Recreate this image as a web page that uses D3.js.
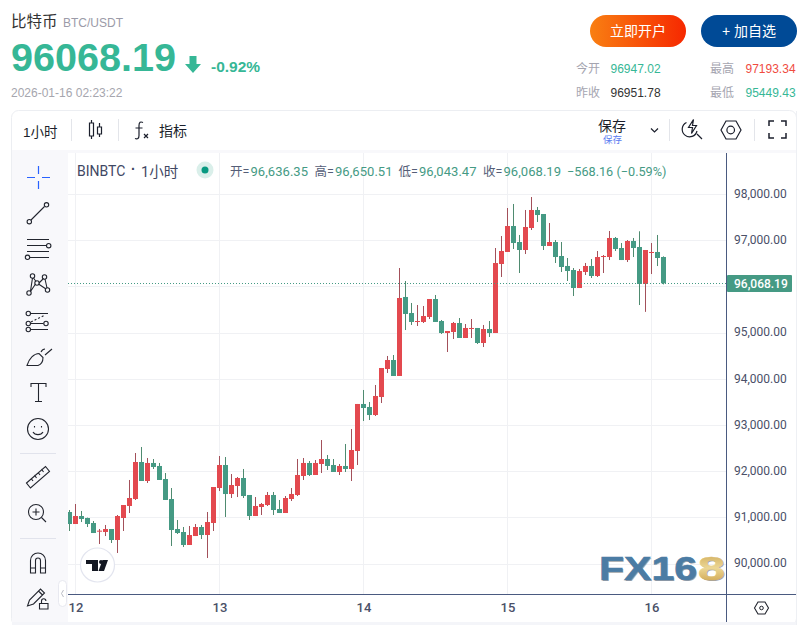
<!DOCTYPE html>
<html><head><meta charset="utf-8">
<script src="https://cdn.jsdelivr.net/npm/d3@7/dist/d3.min.js"></script>
<style>
html,body{margin:0;padding:0;background:#fff;overflow:hidden}
svg{display:block}
text{font-family:"Liberation Sans","Noto Sans CJK SC",sans-serif}
.tv text,text.tv{font-family:Roboto,"Noto Sans CJK SC",sans-serif}
</style></head><body>
<script>
const opens=[91117,90857,91030,90987,90879,90691,90684,90749,90511,90987,91247,91398,92199,91788,92178,92113,91831,91398,90749,90684,90403,90597,90792,90619,90879,91636,92134,91506,91680,91853,91485,91030,91225,91268,91485,91182,91095,91398,91485,91896,92178,91918,92156,92264,92134,91983,92113,92048,92437,93455,93390,93216,93606,94212,94407,94061,95771,95424,95230,95230,95338,95727,95251,94991,95013,95208,94883,95078,95100,94775,95078,94991,96485,96745,97307,96961,96788,97264,97654,97567,96875,96961,96658,96442,96355,95965,96312,96442,96225,96636,96636,97048,96831,96571,96983,96853,96052,96723,96745,96636.35];
const highs=[91160,91290,91139,90995,90922,90749,90836,90749,91052,91268,91810,92394,92524,92286,92264,92178,91961,91636,90944,90792,90814,90857,90836,91117,91658,92329,92307,91939,91874,92048,91485,91441,91312,91550,91550,91377,91463,91636,92264,92286,92221,92242,92675,92351,92264,92156,92589,92913,93455,93758,93498,93866,94234,94494,94515,96398,96117,95641,95597,95576,95727,95814,95273,95035,95230,95316,95186,95294,95100,95165,95251,96831,97091,97697,97784,97113,97654,97935,97719,97567,97372,97004,96961,96615,96398,96377,96507,96593,96766,96680,97199,97069,96939,97004,97048,97193,96788,96939,97113,96650.51];
const lows=[90706,90857,90900,90792,90662,90424,90597,90446,90230,90706,91095,91377,91788,91745,92048,91810,91377,90381,90641,90359,90403,90597,90532,90121,90706,91571,91009,91420,91441,91420,90944,91030,91052,91247,91052,91095,91095,91355,91463,91810,91896,91918,91961,92026,91983,91918,91983,91788,92134,93087,93108,93195,93476,94126,94061,94061,95056,95165,95143,95208,95294,95230,94970,94580,94861,94883,94883,94883,94753,94688,94905,94991,96204,96745,96810,96290,96701,97221,97394,96788,96875,96507,96312,96117,95792,95965,96247,96182,96204,96290,96571,96766,96571,96528,96636,95597,95449,96268,96441,96043.47];
const closes=[90857,91030,90965,90857,90662,90713,90749,90511,91030,91268,91420,92199,91788,92178,92091,91810,91377,90727,90662,90403,90619,90792,90619,90900,91658,92134,91506,91701,91853,91463,91030,91247,91290,91485,91160,91095,91420,91507,91918,92178,91918,92178,92264,92113,91983,92113,92048,92459,93455,93368,93216,93628,94234,94407,94061,95749,95403,95230,95251,95359,95727,95230,94991,95035,95208,94883,95100,95100,94775,95078,94991,96506,96766,97307,96939,96788,97286,97654,97545,96875,96961,96636,96420,96333,95965,96333,96442,96225,96636,96658,97048,96810,96571,96983,96831,96052,96788,96745,96615,96068.19];
const priceTicks=[90000,91000,92000,93000,94000,95000,96000,97000,98000];
const dayTickIndex=[1,25,49,73,97];
const dayLabels=["12","13","14","15","16"];
const lastPrice=96068.19;
const legendPairs=[["开","96,636.35"],["高","96,650.51"],["低","96,043.47"],["收","96,068.19"]];
const legendChange="−568.16 (−0.59%)";

const W=808,H=625;
const UP="#e3494f",DOWN="#459a84",UPW="#a3505a",DOWNW="#4f8b70",AXIS="#4a5a80",GRID="#f0f1f4",TXT="#4a5068";
const x=d3.scaleLinear().domain([0,99]).range([69,663]);
const y=d3.scaleLinear().domain([90000,98000]).range([563.6,194]);
const svg=d3.select("body").append("svg").attr("width",W).attr("height",H).attr("viewBox",`0 0 ${W} ${H}`);
const defs=svg.append("defs");
const g1=defs.append("linearGradient").attr("id","btn");
g1.append("stop").attr("offset","0").attr("stop-color","#f97f12");
g1.append("stop").attr("offset","1").attr("stop-color","#f62800");
const g2=defs.append("linearGradient").attr("id","gold").attr("x1",0).attr("x2",0).attr("y1",0).attr("y2",1);
g2.append("stop").attr("offset","0").attr("stop-color","#c9a14c");
g2.append("stop").attr("offset",".5").attr("stop-color","#ecd795");
g2.append("stop").attr("offset","1").attr("stop-color","#c7983f");
defs.append("clipPath").attr("id","plot").append("rect").attr("x",68).attr("y",153).attr("width",658).attr("height",441);

function T(s,px,py,size,color,opt={}){
  const t=svg.append("text").attr("x",px).attr("y",py).attr("font-size",size).attr("fill",color).text(s);
  if(opt.weight)t.attr("font-weight",opt.weight);
  if(opt.cls)t.attr("class",opt.cls);
  if(opt.anchor)t.attr("text-anchor",opt.anchor);
  if(opt.ls)t.attr("letter-spacing",opt.ls);
  return t;
}
/* header */
T("比特币",11,27,15.5,"#333");
T("BTC/USDT",63,26.5,12,"#9b9ba8");
T("96068.19",11,71,39.6,"#36b796",{weight:700});
svg.append("path").attr("d","M189.5 56h7v8h4.5l-8 9-8-9h4.5z").attr("fill","#36b796");
T("-0.92%",211,72,15.5,"#36b796",{weight:700});
T("2026-01-16 02:23:22",11,97,12,"#a6a6ae");
/* buttons */
svg.append("rect").attr("x",590).attr("y",15).attr("width",96).attr("height",32).attr("rx",16).attr("fill","url(#btn)");
T("立即开户",638,36,14,"#fff",{anchor:"middle"});
svg.append("rect").attr("x",701).attr("y",15).attr("width",96).attr("height",32).attr("rx",16).attr("fill","#004a96");
T("+ 加自选",749,36,14,"#fff",{anchor:"middle"});
/* stats */
[["今开","96947.02","#36b796",576,610.5,73],["最高","97193.34","#f04b3f",710,745.5,73],["昨收","96951.78","#333",576,610.5,97],["最低","95449.43","#36b796",710,745.5,97]].forEach(r=>{
  T(r[0],r[3],r[5],12,"#a5a5b0");T(r[1],r[4],r[5],12,r[2]);
});
/* panel */
svg.append("rect").attr("x",11.5).attr("y",110.5).attr("width",785).attr("height",515).attr("rx",7).attr("fill","#fff").attr("stroke","#eceef2");
svg.append("rect").attr("x",12).attr("y",150).attr("width",784).attr("height",3).attr("fill","#f8f8fb");
svg.append("rect").attr("x",12).attr("y",153).attr("width",56).attr("height",469).attr("fill","#f8f8fb");
svg.append("rect").attr("x",12).attr("y",622).attr("width",784).attr("height",3).attr("fill","#f4f5f9");
/* top toolbar */
T("1小时",23,137,13.5,"#1b1f2c");
[[71.5],[118.5],[669.5],[754.5]].forEach(a=>svg.append("line").attr("x1",a[0]).attr("x2",a[0]).attr("y1",119).attr("y2",141).attr("stroke","#e3e5ea"));
const ic=svg.append("g").attr("fill","none").attr("stroke","#1b1f2c").attr("stroke-width",1.2);
ic.append("path").attr("d","M91.5 120v3M91.5 136v3M89.5 123h4v13h-4zM99.5 123v4M99.5 134v3M97.5 127h4v7h-4z");
ic.append("path").attr("d","M143 122.500c-2.500-1.200-4-.2-4 3v10c0 3-1.500 4-4 3M135.500 128h7M144 134l4 4M148 134l-4 4");
T("指标",159,136,14,"#1b1f2c");
T("保存",598,131,14,"#1b1f2c");
T("保存",603,143,9.5,"#5b7cf0");
ic.append("path").attr("d","M651 128.500l3.500 3.500 3.500-3.500");
ic.append("path").attr("d","M686.500 122.500a7.500 7.500 0 1 0 10.500 8.500M693.500 119.500l-5 8h4l-1 6 5-8h-4zM697 134l5 5");
ic.append("path").attr("d","M721 130l5-9h10l5 9-5 9h-10z");
ic.append("circle").attr("cx",730.7).attr("cy",130).attr("r",3.8);
ic.append("path").attr("d","M769 126v-5h5M781 121h5v5M786 133v5h-5M774 138h-5v-5").attr("stroke-width",1.5);

/* chart: grid via scales */
const grid=svg.append("g");
grid.selectAll("line.h").data(priceTicks).join("line").attr("x1",68).attr("x2",726).attr("y1",d=>Math.round(y(d))+.5).attr("y2",d=>Math.round(y(d))+.5).attr("stroke",GRID);
grid.selectAll("line.v").data(dayTickIndex).join("line").attr("x1",d=>x(d)+.5).attr("x2",d=>x(d)+.5).attr("y1",153).attr("y2",594).attr("stroke",GRID);
/* candles */
const plot=svg.append("g").attr("clip-path","url(#plot)");
const idx=d3.range(opens.length);
plot.selectAll("rect.w").data(idx).join("rect").attr("x",i=>x(i)).attr("width",1)
  .attr("y",i=>y(highs[i])).attr("height",i=>y(lows[i])-y(highs[i]))
  .attr("fill",i=>closes[i]>=opens[i]?UPW:DOWNW);
plot.selectAll("rect.b").data(idx).join("rect").attr("x",i=>x(i)-2).attr("width",5)
  .attr("y",i=>y(Math.max(opens[i],closes[i]))).attr("height",i=>Math.max(1,Math.abs(y(opens[i])-y(closes[i]))))
  .attr("fill",i=>closes[i]>=opens[i]?UP:DOWN);
/* last-price line */
svg.append("line").attr("x1",68).attr("x2",726).attr("y1",Math.floor(y(lastPrice))+.5).attr("y2",Math.floor(y(lastPrice))+.5)
  .attr("stroke",DOWN).attr("stroke-dasharray","1 2");
/* axes: the tick label under the price tag is not shown */
const yAxis=d3.axisRight(y).tickValues(priceTicks.filter(d=>Math.abs(y(d)-y(lastPrice))>12)).tickFormat(d3.format(",.2f")).tickSize(0).tickPadding(7);
const ya=svg.append("g").attr("class","tv").attr("transform","translate(727,-0.5)").call(yAxis);
ya.select(".domain").remove();
ya.selectAll("text").attr("font-size",12).attr("fill",TXT);
const xAxis=d3.axisBottom(x).tickValues(dayTickIndex).tickFormat((d,i)=>dayLabels[i]).tickSize(0).tickPadding(9);
const xa=svg.append("g").attr("class","tv").attr("transform","translate(0.5,594)").call(xAxis);
xa.select(".domain").remove();
xa.selectAll("text").attr("font-size",13).attr("font-weight",500).attr("fill",TXT);
svg.append("rect").attr("x",68).attr("y",594).attr("width",729).attr("height",1).attr("fill",AXIS);
svg.append("rect").attr("x",726).attr("y",153).attr("width",1).attr("height",469).attr("fill",AXIS);
svg.append("rect").attr("x",796).attr("y",111).attr("width",1).attr("height",514).attr("fill","#eef0f4");
/* price label */
svg.append("rect").attr("x",727).attr("y",275).attr("width",65).attr("height",17).attr("rx",1).attr("fill",DOWN);
T(d3.format(",.2f")(lastPrice),734,288,12,"#fff",{cls:"tv",weight:500});
/* legend */
T("BINBTC",77,176,14,"#3f4763",{cls:"tv"});
T("·",131,174,14,"#3f4763",{weight:700});
T("1小时",141,177,14.500,"#3f4763",{cls:"tv"});
svg.append("circle").attr("cx",205).attr("cy",170).attr("r",8.5).attr("fill","#daefea");
svg.append("circle").attr("cx",205).attr("cy",170).attr("r",3.5).attr("fill","#089981");
const starts=[230,314.5,398.5,483];
legendPairs.forEach((p,i)=>{
  T(p[0]+"=",starts[i],176,12.5,"#555e78",{cls:"tv"});
  T(p[1],starts[i]+20.5,176,13,DOWN,{cls:"tv",ls:.05});
});
T(legendChange,567,176,12.7,DOWN,{cls:"tv"});
/* left toolbar icons */
const L=svg.append("g").attr("fill","none").attr("stroke","#22252e").attr("stroke-width",1.1);
L.append("path").attr("d","M27 177.500h8M42 177.500h8M38.500 166v8M38.500 181v8").attr("stroke","#2962ff").attr("stroke-width",1.2);
L.append("path").attr("d","M31 220l13.500-13.500");
[[29.3,221.7],[46.5,204.8],[48.7,245.7],[27.5,257.3],[32.5,276],[37,283],[44.5,277],[47.5,290],[29,293],[28.3,313.5],[28.3,323.5],[28.3,329.5],[46,323.5]].forEach(c=>L.append("circle").attr("cx",c[0]).attr("cy",c[1]).attr("r",2.2));
L.append("path").attr("d","M27 239.500h22M27 245.500h19M27 251.500h22M30 257.500h19");
L.append("path").attr("d","M30.500 291l2-13M33.500 278l2.500 3.500M39 283l4.500-4.500M45 279l2 9M38.500 284l7.500 5M35.500 284l-5 7.500");
L.append("path").attr("d","M31 313.500h17M31 323.500h12.500M31 329.500h17");
L.append("path").attr("d","M31 322l14-7").attr("stroke-dasharray","2 2");
L.append("path").attr("d","M27 365.500h11c3-1 5-4 5-8l-4-4c-5 0-10 5-12 12zM41 352c1-2 3-3 4-3M45 355l7-6");
L.append("path").attr("d","M31 387v-3.500h15v3.500M38.500 383.500v18M35 401.500h7");
L.append("circle").attr("cx",38).attr("cy",429).attr("r",10.5);
L.append("path").attr("d","M33 432c2 3.500 8 3.500 10 0M34.500 426v1.500M41.500 426v1.500");
L.append("path").attr("d","M26.500 483l19-16.500 4 5-19 16.500zM33 481l-1.500-2M36.500 478l-2-3M40 475l-1.500-2M43.500 472l-2-3");
L.append("circle").attr("cx",36).attr("cy",512).attr("r",7.5);
L.append("path").attr("d","M36 508.500v7M32.500 512h7M41.500 517.500l4.500 4.500");
L.append("path").attr("d","M30.500 573v-12.500a7.500 7.500 0 0 1 15 0v12.500h-5v-12.500a2.500 2.500 0 0 0-5 0v12.500zM30.500 568h5M40.500 568h5");
L.append("path").attr("d","M27.500 606l2-6 11-11 4 4-11 11zM38.500 591l4 4");
L.append("path").attr("d","M39.500 609v-5.500h8.500v5.500zM41.500 603.500v-2.500a2.200 2.200 0 0 1 4.400 0");
[[20,56,453.5],[20,56,538.5]].forEach(a=>svg.append("line").attr("x1",a[0]).attr("x2",a[1]).attr("y1",a[2]).attr("y2",a[2]).attr("stroke","#e1e3ec"));
svg.append("rect").attr("x",58.5).attr("y",580.5).attr("width",8).attr("height",26).attr("rx",4).attr("fill","#fff").attr("stroke","#e8e9f0");
svg.append("path").attr("d","M63.500 590l-2 3.500 2 3.500").attr("fill","none").attr("stroke","#b8bac4");
/* bottom-right gear */
svg.append("path").attr("d","M754.500 608l3.500-6h7l3.500 6-3.500 6h-7z").attr("fill","none").attr("stroke","#22252e").attr("stroke-width",1.1);
svg.append("circle").attr("cx",761.500).attr("cy",608).attr("r",1.800).attr("fill","none").attr("stroke","#22252e");
/* TV logo */
svg.append("circle").attr("cx",97.500).attr("cy",565).attr("r",17).attr("fill","#fff").attr("stroke","#e3e5ef").attr("stroke-width",1.200);
svg.append("path").attr("d","M86 560h12v11h-6v-7h-6z").attr("fill","#131722");
svg.append("circle").attr("cx",101).attr("cy",562).attr("r",2).attr("fill","#131722");
svg.append("path").attr("d","M98.500 571h5.500l4-11h-5.500z").attr("fill","#131722");
/* FX168 watermark */
const wm=svg.append("g").attr("font-family","DejaVu Sans").attr("font-weight",700).attr("font-size",34);
wm.append("text").attr("x",600).attr("y",581).attr("textLength",98).attr("lengthAdjust","spacingAndGlyphs").attr("fill","#777c84").attr("opacity",.7).text("FX16");
wm.append("text").attr("x",599).attr("y",580).attr("textLength",98).attr("lengthAdjust","spacingAndGlyphs").attr("fill","#4b7ca4").attr("stroke","#4b7ca4").attr("stroke-width",.6).text("FX16");
wm.append("text").attr("x",699).attr("y",581).attr("textLength",27).attr("lengthAdjust","spacingAndGlyphs").attr("fill","#777c84").attr("opacity",.7).text("8");
wm.append("text").attr("x",698).attr("y",580).attr("textLength",27).attr("lengthAdjust","spacingAndGlyphs").attr("fill","url(#gold)").attr("stroke","url(#gold)").attr("stroke-width",.6).text("8");
</script>
</body></html>
